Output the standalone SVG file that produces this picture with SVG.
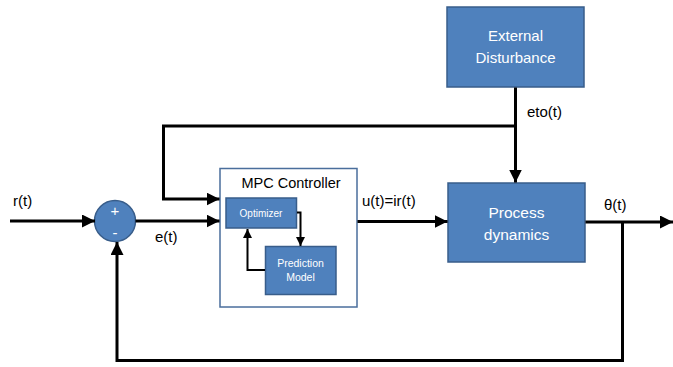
<svg xmlns="http://www.w3.org/2000/svg" width="673" height="367" viewBox="0 0 673 367">
<style>
.blk{fill:#4F81BD;stroke:#385D8A;stroke-width:1.5}
.wt{fill:#fff;font-family:"Liberation Sans",Arial,sans-serif;text-anchor:middle}
.lb{fill:#000;font-family:"Liberation Sans",Arial,sans-serif;font-size:15px}
.c{fill:none;stroke:#000;stroke-width:3}
.ci{fill:none;stroke:#000;stroke-width:2}
</style>
<defs>
<marker id="a" viewBox="0 0 12 12" refX="12" refY="6" markerWidth="13" markerHeight="13" markerUnits="userSpaceOnUse" orient="auto"><path d="M0,0 L12,6 L0,12 z" fill="#000"/></marker>
<marker id="s" viewBox="0 0 10 10" refX="10" refY="5" markerWidth="9" markerHeight="9" markerUnits="userSpaceOnUse" orient="auto"><path d="M0,0 L10,5 L0,10 z" fill="#000"/></marker>
</defs>
<rect width="673" height="367" fill="#fff"/>
<g id="labels">
<text class="lb" x="13" y="206">r(t)</text>
<text class="lb" x="155" y="242">e(t)</text>
<text class="lb" x="362" y="206">u(t)=ir(t)</text>
<text class="lb" x="527" y="117">eto(t)</text>
<text class="lb" x="604" y="210">θ(t)</text>
</g>
<g id="sum">
<circle cx="115" cy="221" r="20.5" fill="#4F81BD" stroke="#385D8A" stroke-width="1.5"/>
<text class="wt" x="115" y="216" font-size="15">+</text>
<text class="wt" x="115" y="238" font-size="15">-</text>
</g>
<g id="external-disturbance">
<rect class="blk" x="447" y="7" width="137" height="80"/>
<text class="wt" x="515.5" y="41" font-size="15">External</text>
<text class="wt" x="515.5" y="63" font-size="15">Disturbance</text>
</g>
<g id="process-dynamics">
<rect class="blk" x="448" y="183" width="137" height="79"/>
<text class="wt" x="516.5" y="218" font-size="15.5">Process</text>
<text class="wt" x="516.5" y="240" font-size="15.5">dynamics</text>
</g>
<g id="mpc-controller">
<rect x="220" y="168.5" width="137" height="138.5" fill="#fff" stroke="#4A6E9C" stroke-width="1.5"/>
<text x="291" y="188" font-family="Liberation Sans, Arial, sans-serif" font-size="14.5" text-anchor="middle" fill="#000">MPC Controller</text>
</g>
<g id="optimizer">
<rect class="blk" x="226" y="198" width="70.5" height="30"/>
<text class="wt" x="261" y="217" font-size="10">Optimizer</text>
</g>
<g id="prediction-model">
<rect class="blk" x="265.5" y="246.5" width="70.5" height="48"/>
<text class="wt" x="300.5" y="267" font-size="10.5">Prediction</text>
<text class="wt" x="300.5" y="281" font-size="10.5">Model</text>
</g>
<g id="connectors">
<path class="c" d="M10,221 H95" marker-end="url(#a)"/>
<path class="c" d="M135.5,221 H219.5" marker-end="url(#a)"/>
<path class="c" d="M515.5,87.5 V182.5" marker-end="url(#a)"/>
<path class="c" d="M515.5,126 H163.5 V199 H219.5" marker-end="url(#a)"/>
<path class="c" d="M357.5,221.5 H447.5" marker-end="url(#a)"/>
<path class="c" d="M585.5,222 H673" marker-end="url(#a)"/>
<path class="c" d="M622.5,222 V360.5 H117 V242" marker-end="url(#a)"/>
<path class="ci" d="M297,212.5 H300.5 V246" marker-end="url(#s)"/>
<path class="ci" d="M265,270 H247.5 V229" marker-end="url(#s)"/>
</g>
</svg>
